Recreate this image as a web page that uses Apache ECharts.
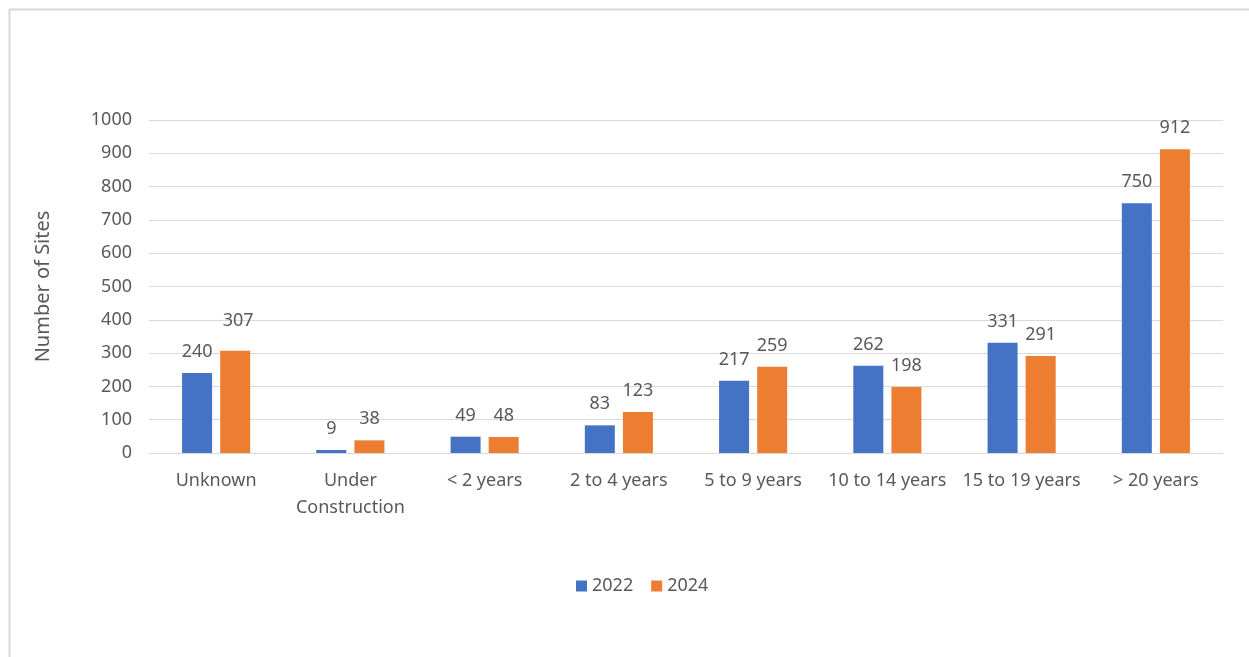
<!DOCTYPE html>
<html><head><meta charset="utf-8">
<script src="https://cdn.jsdelivr.net/npm/echarts@6/dist/echarts.min.js"></script>
<style>html,body{margin:0;padding:0;background:#fff}#c{width:1249px;height:657px}</style>
</head><body><div id="c"></div>
<script>
const categories = ['Unknown', 'Under\nConstruction', '< 2 years', '2 to 4 years', '5 to 9 years', '10 to 14 years', '15 to 19 years', '> 20 years'];
const values2022 = [240, 9, 49, 83, 217, 262, 331, 750];
const values2024 = [307, 38, 48, 123, 259, 198, 291, 912];
const seriesNames = ['2022', '2024'];
const txt = '#595959';
const font = 'Noto Sans';
const fs = 18;
const chart = echarts.init(document.getElementById('c'));
const lbl = {show: true, position: 'top', distance: 12, color: txt, fontFamily: font, fontSize: fs};
chart.setOption({
  animation: false,
  textStyle: {fontFamily: font},
  graphic: [{type: 'rect', shape: {x: 9.5, y: 9.5, width: 1260, height: 670}, style: {fill: 'none', stroke: '#d9d9d9', lineWidth: 2}}],
  grid: {left: 149, right: 26, top: 120, bottom: 204},
  legend: {data: seriesNames, left: 571, top: 572, itemWidth: 11, itemHeight: 11, itemGap: 18,
    icon: 'rect', textStyle: {color: txt, fontSize: fs, fontFamily: font}},
  xAxis: {type: 'category', data: categories,
    axisLine: {lineStyle: {color: '#d9d9d9'}}, axisTick: {show: false},
    axisLabel: {color: txt, fontSize: fs, fontFamily: font, margin: 14, lineHeight: 27, interval: 0}},
  yAxis: {type: 'value', min: 0, max: 1000, interval: 100,
    name: 'Number of Sites', nameLocation: 'middle', nameGap: 96, nameRotate: 90,
    nameTextStyle: {color: txt, fontSize: 20, fontFamily: font},
    axisLabel: {color: txt, fontSize: fs, fontFamily: font, margin: 17, formatter: v => String(v)},
    splitLine: {lineStyle: {color: '#d9d9d9', width: 1}}},
  series: [
    {name: '2022', type: 'bar', data: values2022, barWidth: 30, barGap: '27%',
      itemStyle: {color: '#4472c4'}, label: lbl},
    {name: '2024', type: 'bar', data: values2024.map((v, i) => i === 0 ? {value: v, label: {distance: 21, offset: [3, 0]}} : v),
      barWidth: 30, itemStyle: {color: '#ed7d31'}, label: lbl}
  ]
});
</script></body></html>
